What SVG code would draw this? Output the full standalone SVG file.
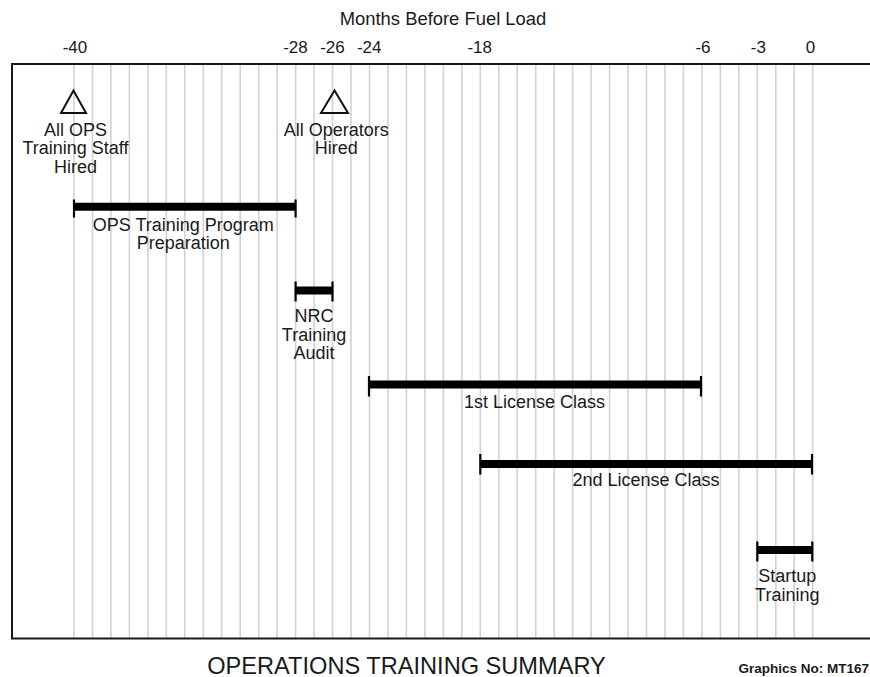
<svg xmlns="http://www.w3.org/2000/svg" width="870" height="677" viewBox="0 0 870 677">
<style>
text{font-family:"Liberation Sans",Arial,Helvetica,sans-serif;fill:#1a1a1a}
.lab{font-size:18px;text-anchor:middle}
.tick{font-size:17px;text-anchor:middle}
.grid{stroke:#d2d2d2;stroke-width:1.6;fill:none}
.frame{stroke:#1a1a1a;stroke-width:2;fill:none}
.bar{stroke:#000;stroke-width:8}
.cap{stroke:#000;stroke-width:2.2}
.tri{fill:none;stroke:#111;stroke-width:2;stroke-linejoin:miter}
</style>
<rect width="870" height="677" fill="#fff"/>
<g id="grid">
<path class="grid" d="M74,65V638M92.5,65V638M110.9,65V638M129.4,65V638M147.9,65V638M166.3,65V638M184.8,65V638M203.3,65V638M221.7,65V638M240.2,65V638M258.7,65V638M277.1,65V638M295.6,65V638M314.1,65V638M332.5,65V638M351,65V638M369.5,65V638M388,65V638M406.4,65V638M424.9,65V638M443.4,65V638M461.8,65V638M480.3,65V638M498.8,65V638M517.2,65V638M535.7,65V638M554.2,65V638M572.6,65V638M591.1,65V638M609.6,65V638M628,65V638M646.5,65V638M665,65V638M683.4,65V638M701.9,65V638M720.4,65V638M738.8,65V638M757.3,65V638M775.8,65V638M794.2,65V638M812.7,65V638"/>
<path class="frame" d="M870,64H12V638.5H870"/>
</g>
<g id="axis">
<text x="443" y="25" font-size="18.4" text-anchor="middle">Months Before Fuel Load</text>
<text class="tick" x="75" y="52.5">-40</text>
<text class="tick" x="295.5" y="52.5">-28</text>
<text class="tick" x="332.5" y="52.5">-26</text>
<text class="tick" x="369.2" y="52.5">-24</text>
<text class="tick" x="479.7" y="52.5">-18</text>
<text class="tick" x="703" y="52.5">-6</text>
<text class="tick" x="758.3" y="52.5">-3</text>
<text class="tick" x="810.5" y="52.5">0</text>
</g>
<g id="milestone-ops-staff">
<polygon class="tri" points="73.5,90.5 61,113 86,113"/>
<text class="lab" x="75.5" y="136">All OPS</text>
<text class="lab" x="75.5" y="154.3">Training Staff</text>
<text class="lab" x="75.5" y="172.6">Hired</text>
</g>
<g id="milestone-operators">
<polygon class="tri" points="334.5,90.5 321,113 348,113"/>
<text class="lab" x="336.3" y="136">All Operators</text>
<text class="lab" x="336.3" y="154.3">Hired</text>
</g>
<g id="bar-ops-prep">
<line class="bar" x1="74" y1="206.7" x2="295.6" y2="206.7"/>
<line class="cap" x1="74" y1="199.5" x2="74" y2="217.5"/>
<line class="cap" x1="295.6" y1="199.5" x2="295.6" y2="217.5"/>
<text class="lab" x="183.3" y="230.7">OPS Training Program</text>
<text class="lab" x="183.3" y="249">Preparation</text>
</g>
<g id="bar-nrc-audit">
<line class="bar" x1="295.6" y1="290.5" x2="332.5" y2="290.5"/>
<line class="cap" x1="295.6" y1="281.5" x2="295.6" y2="301.5"/>
<line class="cap" x1="332.5" y1="281.5" x2="332.5" y2="301.5"/>
<text class="lab" x="314" y="322.3">NRC</text>
<text class="lab" x="314" y="340.6">Training</text>
<text class="lab" x="314" y="358.9">Audit</text>
</g>
<g id="bar-1st-license">
<line class="bar" x1="369" y1="384.5" x2="701" y2="384.5"/>
<line class="cap" x1="369" y1="376" x2="369" y2="396.5"/>
<line class="cap" x1="701" y1="376" x2="701" y2="396.5"/>
<text class="lab" x="534.5" y="408">1st License Class</text>
</g>
<g id="bar-2nd-license">
<line class="bar" x1="480.3" y1="464" x2="812" y2="464"/>
<line class="cap" x1="480.3" y1="454" x2="480.3" y2="474.5"/>
<line class="cap" x1="812" y1="454" x2="812" y2="474.5"/>
<text class="lab" x="646" y="485.5">2nd License Class</text>
</g>
<g id="bar-startup">
<line class="bar" x1="757.3" y1="550" x2="812.3" y2="550"/>
<line class="cap" x1="757.3" y1="541.5" x2="757.3" y2="561.5"/>
<line class="cap" x1="812.3" y1="541.5" x2="812.3" y2="561.5"/>
<text class="lab" x="787.3" y="582.3">Startup</text>
<text class="lab" x="787.3" y="600.6">Training</text>
</g>
<g id="title">
<text x="406.5" y="673.5" font-size="23.6" text-anchor="middle">OPERATIONS TRAINING SUMMARY</text>
<text x="869" y="673" font-size="13.5" font-weight="bold" text-anchor="end">Graphics No: MT167</text>
</g>
</svg>
